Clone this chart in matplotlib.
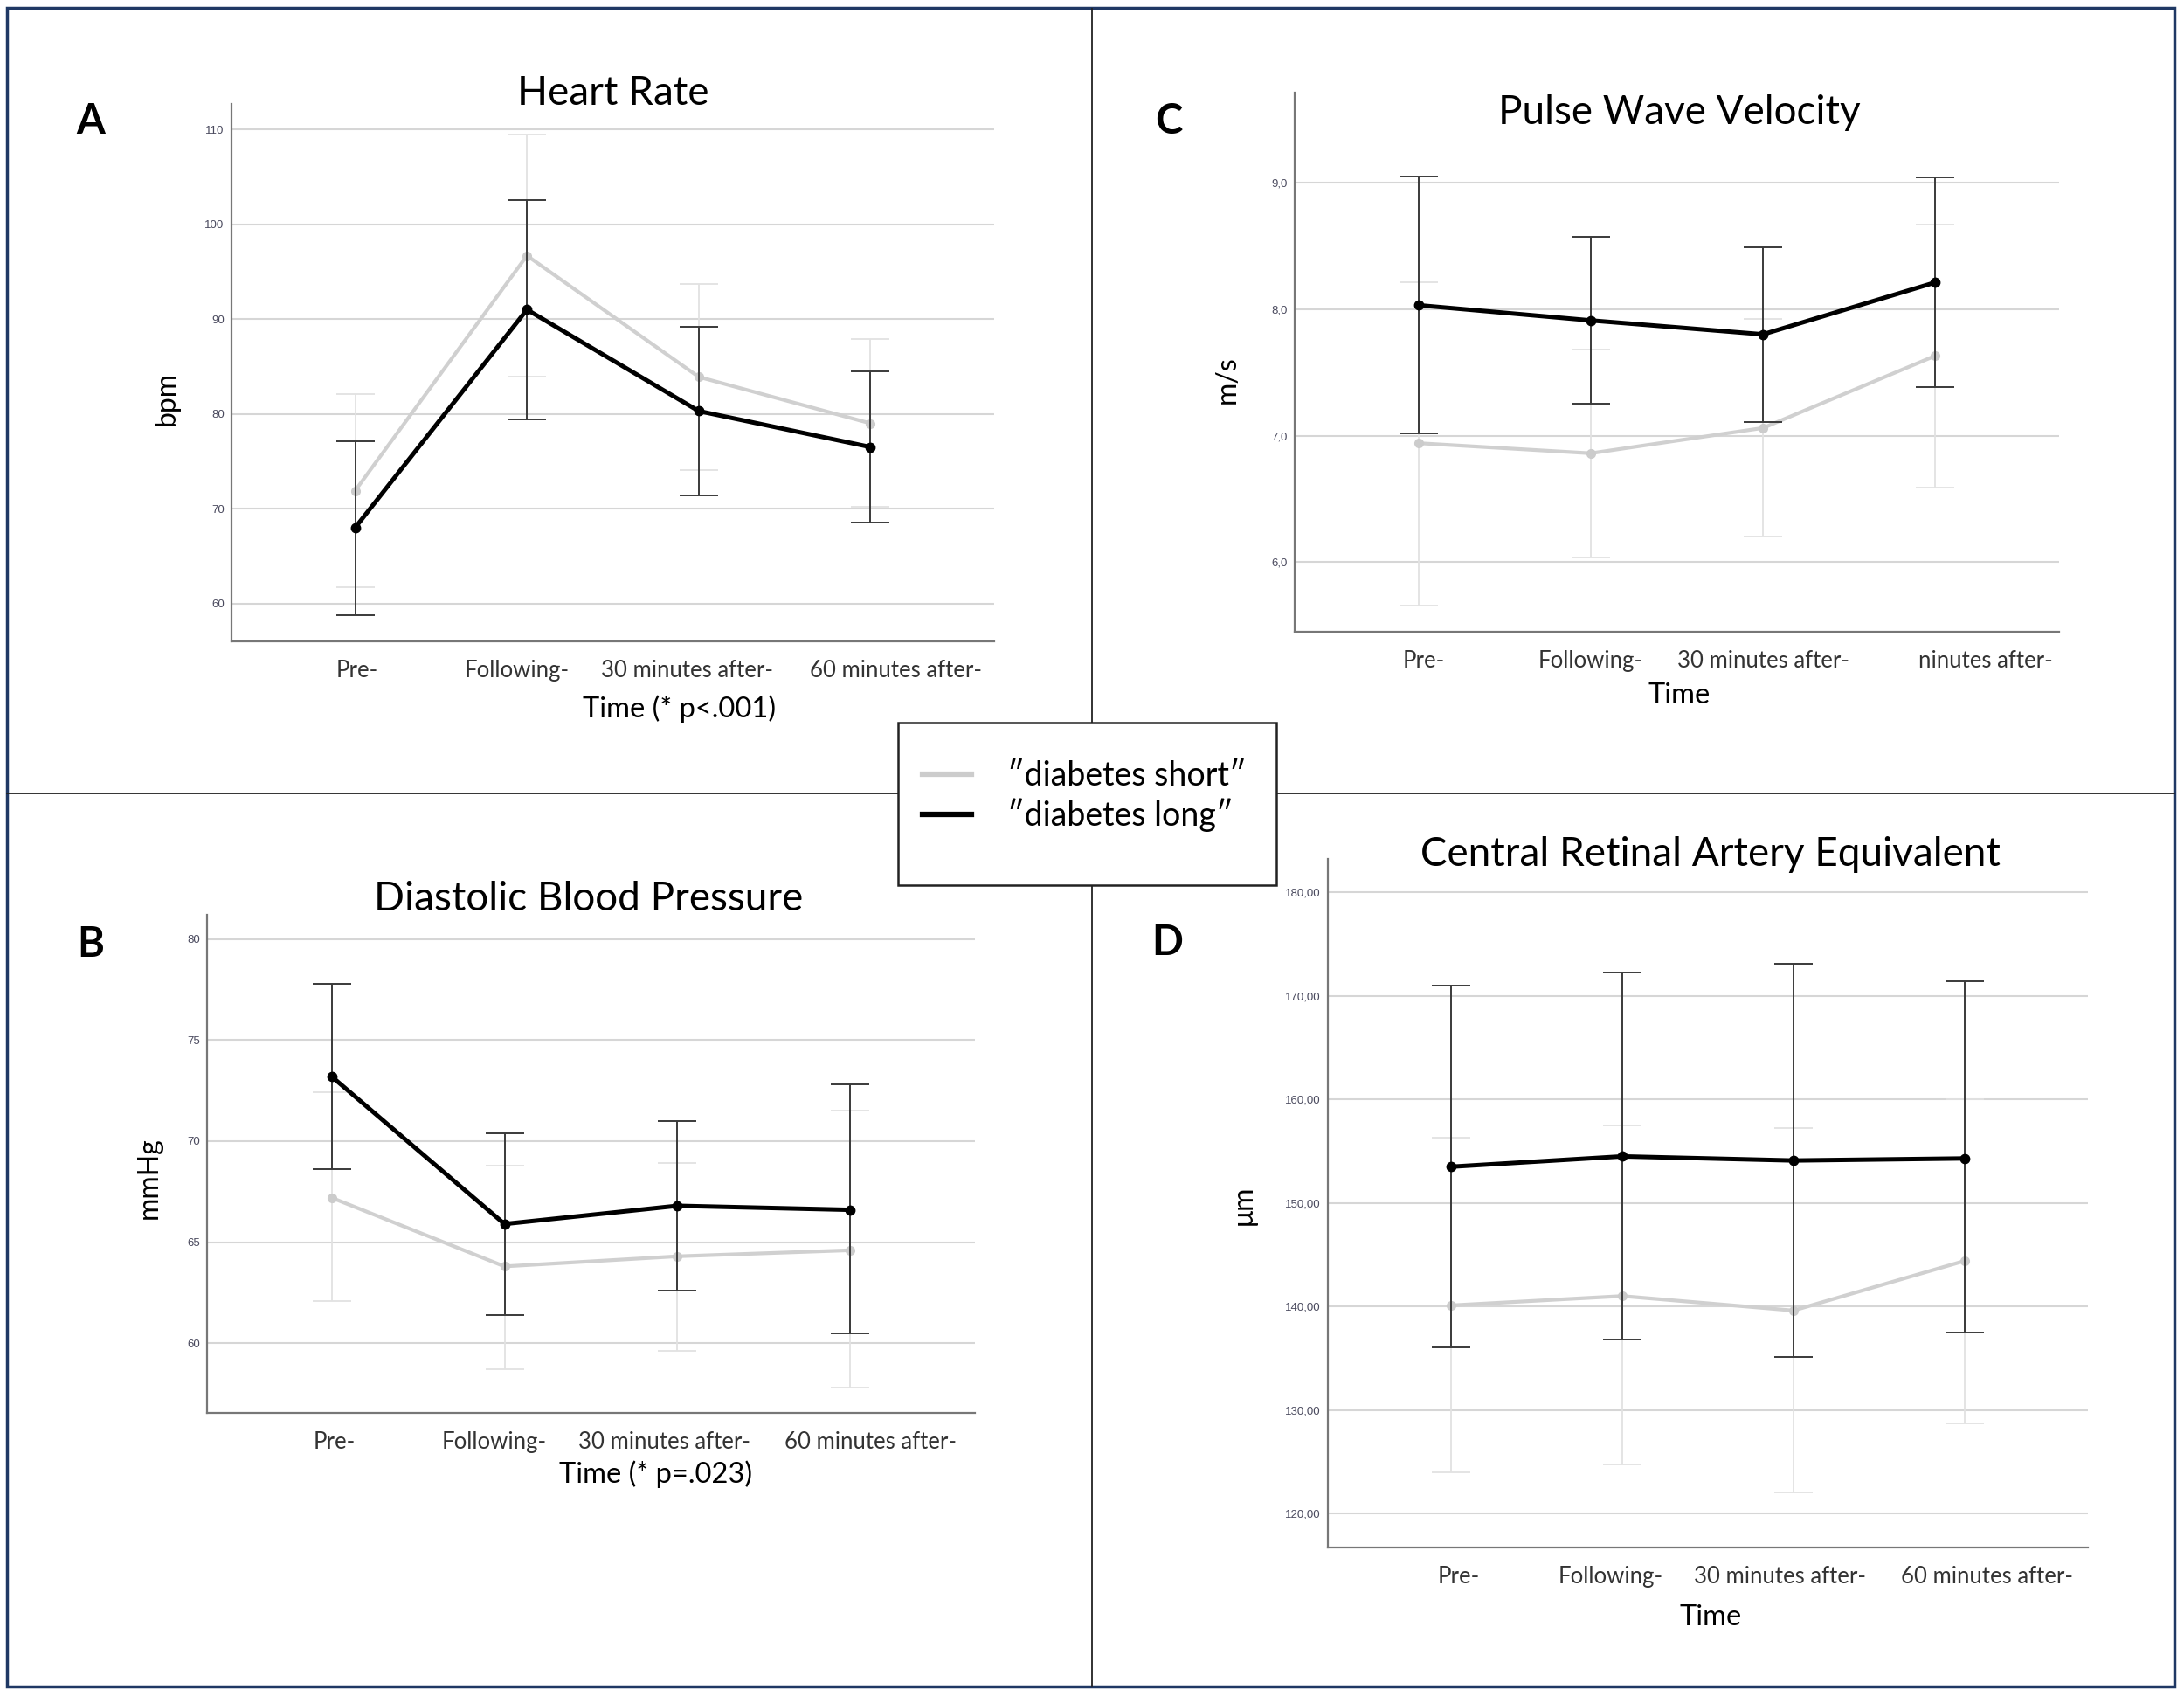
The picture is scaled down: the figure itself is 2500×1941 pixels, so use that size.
import matplotlib
matplotlib.use("Agg")
import matplotlib.pyplot as plt
from matplotlib.lines import Line2D
from matplotlib.patches import Rectangle
from matplotlib.transforms import ScaledTranslation

plt.rcParams['font.family'] = ['Lato', 'DejaVu Sans']

# Datos (medias e intervalos)
time_labels = ["Pre-", "Following-", "30 minutes after-", "60 minutes after-"]

hr_short = [71.9, 96.7, 83.9, 79.0]
hr_short_lo = [61.7, 83.9, 74.1, 70.2]
hr_short_hi = [82.1, 109.5, 93.7, 87.9]
hr_long = [68.0, 91.0, 80.3, 76.5]
hr_long_lo = [58.8, 79.4, 71.4, 68.5]
hr_long_hi = [77.1, 102.6, 89.2, 84.5]

pwv_short = [6.94, 6.86, 7.06, 7.63]
pwv_short_lo = [5.66, 6.04, 6.20, 6.59]
pwv_short_hi = [8.21, 7.68, 7.92, 8.67]
pwv_long = [8.03, 7.91, 7.80, 8.21]
pwv_long_lo = [7.02, 7.25, 7.11, 7.38]
pwv_long_hi = [9.05, 8.57, 8.49, 9.04]

dbp_short = [67.2, 63.8, 64.3, 64.6]
dbp_short_lo = [62.1, 58.7, 59.6, 57.8]
dbp_short_hi = [72.4, 68.8, 68.9, 71.5]
dbp_long = [73.2, 65.9, 66.8, 66.6]
dbp_long_lo = [68.6, 61.4, 62.6, 60.5]
dbp_long_hi = [77.8, 70.4, 71.0, 72.8]

crae_short = [140.1, 141.0, 139.6, 144.4]
crae_short_lo = [124.0, 124.7, 122.0, 128.7]
crae_short_hi = [156.3, 157.5, 157.2, 160.0]
crae_long = [153.5, 154.5, 154.1, 154.3]
crae_long_lo = [136.0, 136.8, 135.1, 137.5]
crae_long_hi = [171.0, 172.3, 173.1, 171.4]

W, H = 2500, 1941
fig = plt.figure(figsize=(W / 100, H / 100), dpi=100)


def px_axes(left, right, top, bottom):
    return fig.add_axes([left / W, 1 - bottom / H, (right - left) / W, (bottom - top) / H])


def ftext(x, y, s, **kw):
    fig.text(x / W, 1 - y / H, s, ha='center', va='center', **kw)


def panel(rect, short, s_lo, s_hi, long_, l_lo, l_hi, yticks, ylim, fmt,
          title, title_xy, letter, letter_xy, ylabel, ylabel_xy, xlabel, xlabel_xy,
          xlabels=time_labels, shifts=(0, 0, 0, 0)):
    ax = px_axes(*rect)
    x = list(range(len(time_labels)))
    err_s = [[m - lo for m, lo in zip(short, s_lo)], [hi - m for m, hi in zip(short, s_hi)]]
    err_l = [[m - lo for m, lo in zip(long_, l_lo)], [hi - m for m, hi in zip(long_, l_hi)]]

    ax.errorbar(x, short, yerr=err_s, fmt='none', ecolor='#e2e2e2', elinewidth=1.3,
                capsize=16, capthick=1.3, zorder=2)
    ln_s, = ax.plot(x, short, color='#d0d0d0', lw=3.0, marker='o', ms=7,
                    mfc='#cccccc', mec='#cccccc', zorder=3)
    ax.errorbar(x, long_, yerr=err_l, fmt='none', ecolor='#3a3a3a', elinewidth=1.4,
                capsize=16, capthick=1.4, zorder=4)
    ln_l, = ax.plot(x, long_, color='black', lw=3.6, marker='o', ms=7.5,
                    mfc='black', mec='black', zorder=5)

    ax.set_xlim(-0.72, 3.72)
    ax.set_ylim(*ylim)
    ax.set_yticks(yticks)
    ax.set_yticklabels([fmt(v) for v in yticks], fontsize=9.5, color='#4a4a5e',
                       family='Liberation Sans')
    ax.set_xticks(x)
    ax.set_xticklabels(xlabels, fontsize=18.5, color='#333333')
    ax.tick_params(axis='both', length=0)
    ax.tick_params(axis='x', pad=15)
    ax.tick_params(axis='y', pad=6)
    # las etiquetas del original no están centradas exactamente en cada punto
    for lab, dx in zip(ax.get_xticklabels(), shifts):
        lab.set_transform(lab.get_transform() + ScaledTranslation(dx / 100, 0, fig.dpi_scale_trans))
    ax.grid(axis='y', color='#d6d6d6', lw=1.5)
    ax.set_axisbelow(True)
    for side in ['top', 'right']:
        ax.spines[side].set_visible(False)
    for side in ['left', 'bottom']:
        ax.spines[side].set_color('#777777')
        ax.spines[side].set_linewidth(1.6)

    ftext(*title_xy, title, fontsize=33)
    ftext(*letter_xy, letter, fontsize=34, fontweight='bold')
    ftext(*ylabel_xy, ylabel, fontsize=23, rotation=90)
    ftext(*xlabel_xy, xlabel, fontsize=23.5)
    return ax, ln_s, ln_l


def dec1(v):
    return f"{v:.1f}".replace('.', ',')


def dec2(v):
    return f"{v:.2f}".replace('.', ',')


def ent(v):
    return f"{v:.0f}"


# A - Heart Rate
panel((265, 1138, 119, 734), hr_short, hr_short_lo, hr_short_hi, hr_long, hr_long_lo, hr_long_hi,
      [60, 70, 80, 90, 100, 110], (56.0, 112.7), ent,
      "Heart Rate", (702, 107), "A", (104, 139), "bpm", (191, 456),
      "Time (* p<.001)", (778, 811), shifts=(2, -12, -13, 29))

# C - Pulse Wave Velocity (la última etiqueta aparece recortada en el original)
c_labels = time_labels[:3] + ["ninutes after-"]
panel((1482, 2357, 106, 723), pwv_short, pwv_short_lo, pwv_short_hi, pwv_long, pwv_long_lo,
      pwv_long_hi, [6.0, 7.0, 8.0, 9.0], (5.45, 9.71), dec1,
      "Pulse Wave Velocity", (1922, 129), "C", (1338, 139), "m/s", (1405, 435),
      "Time", (1922, 796), xlabels=c_labels, shifts=(6, 0, 0, 58))

# B - Diastolic Blood Pressure
panel((237, 1116, 1047, 1617), dbp_short, dbp_short_lo, dbp_short_hi, dbp_long, dbp_long_lo, dbp_long_hi,
      [60, 65, 70, 75, 80], (56.55, 81.2), ent,
      "Diastolic Blood Pressure", (674, 1029), "B", (104, 1081), "mmHg", (171, 1348),
      "Time (* p=.023)", (751, 1687), shifts=(3, -12, -15, 23))

# D - CRAE
panel((1520, 2390, 983, 1771), crae_short, crae_short_lo, crae_short_hi,
      crae_long, crae_long_lo, crae_long_hi,
      [120, 130, 140, 150, 160, 170, 180], (116.7, 183.25), dec2,
      "Central Retinal Artery Equivalent", (1958, 978), "D", (1336, 1079),
      "μm", (1424, 1379), "Time", (1958, 1851), shifts=(9, -13, -15, 26))

# Líneas divisorias y marco
fig.add_artist(Line2D([1250 / W, 1250 / W], [1 - 10 / H, 1 - 1930 / H], color='#222222', lw=1.3))
fig.add_artist(Line2D([8 / W, 2489 / W], [1 - 908 / H, 1 - 908 / H], color='#222222', lw=1.3))
fig.add_artist(Rectangle((8 / W, 1 - 1930 / H), 2481 / W, 1921 / H, fill=False,
                         edgecolor='#1f3864', lw=2.5))

# Leyenda
fig.add_artist(Rectangle((1028 / W, 1 - 1013 / H), 433 / W, 186 / H, facecolor='white',
                         edgecolor='#222222', lw=1.8, zorder=10))
h_short = Line2D([], [], color='#cccccc', lw=4.5)
h_long = Line2D([], [], color='black', lw=4.5)
leg = fig.legend([h_short, h_long], ["\u2033diabetes short\u2033", "\u2033diabetes long\u2033"],
                 loc='upper left', bbox_to_anchor=(1022 / W, 1 - 836 / H), frameon=False,
                 fontsize=27, handlelength=1.5, handletextpad=1.1, labelspacing=0.2)
leg.set_zorder(11)

fig.savefig("out.png", dpi=100, facecolor='white')
